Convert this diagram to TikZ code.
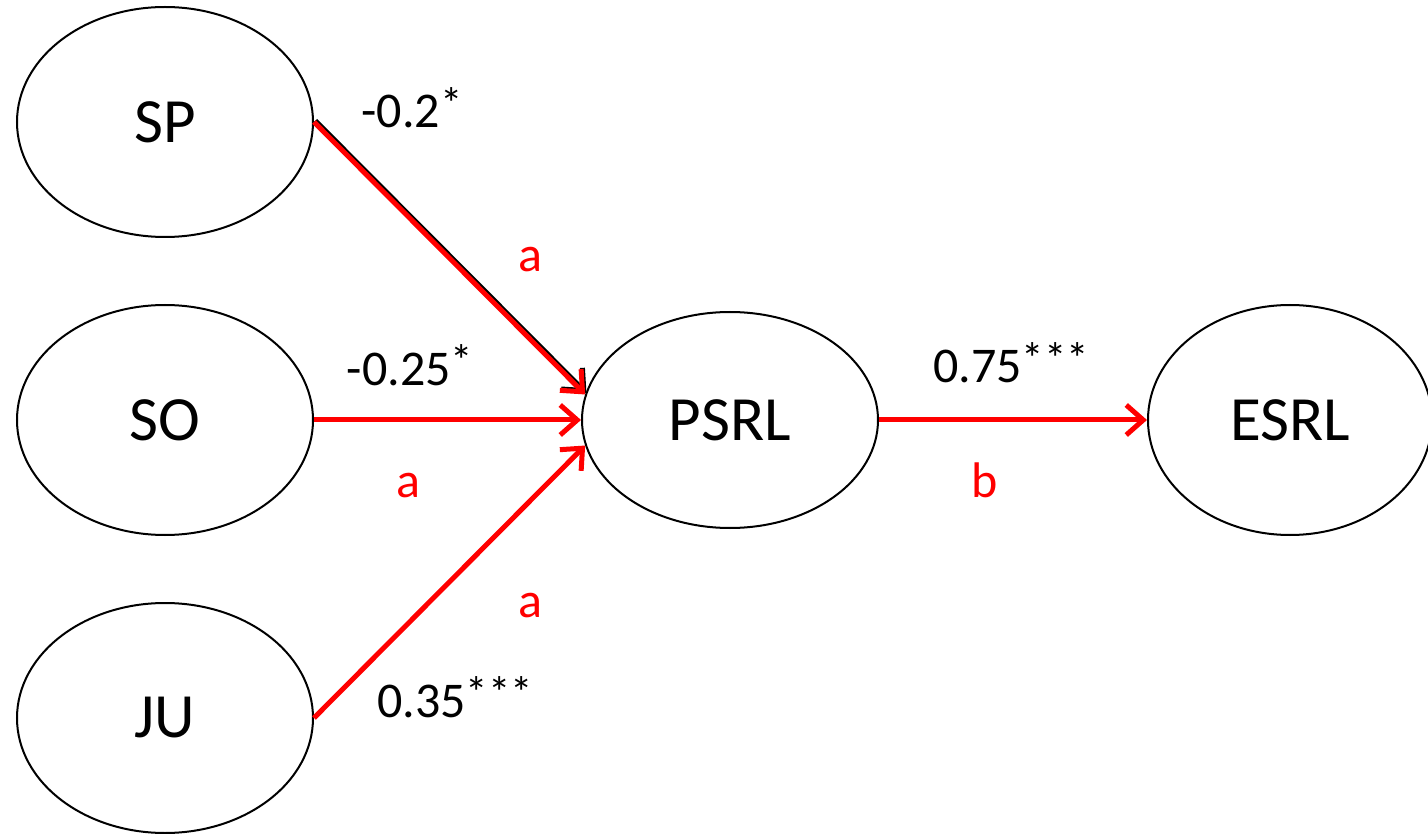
\documentclass[tikz,border=0pt]{standalone}
\usepackage{fontspec}
\setmainfont{Carlito}
\usetikzlibrary{shapes.geometric,arrows.meta}

% 显著性星号
\newcommand{\sig}[1]{\raisebox{0.17em}{\fontsize{45}{50}\selectfont #1}}

\begin{document}
\begin{tikzpicture}[x=1pt, y=-1pt,
    latent/.style={draw, ellipse, line width=2pt, minimum width=296pt, minimum height=230pt, inner sep=0pt, font=\fontsize{63}{70}\selectfont},
    effect/.style={red, line width=5pt, -{Straight Barb[length=17pt,width=30pt]}},
    coef/.style={anchor=base, font=\fontsize{50}{60}\selectfont},
    pathlbl/.style={anchor=base, red, font=\fontsize{50}{60}\selectfont}]

    % --- 定义坐标和参数 ---
    \def\colL{165}      % 左侧三个变量的 x
    \def\colM{730}      % 中介变量 PSRL 的 x
    \def\colR{1290}     % 结果变量 ESRL 的 x
    \def\rowM{420}      % 中间一行的 y

    % 画布大小 (像素)
    \useasboundingbox (0,0) rectangle (1428,834);

    % --- 绘制变量 (椭圆) ---
    \node[latent] (SP) at (\colL, 122) {SP};
    \node[latent] (SO) at (\colL, \rowM) {SO};
    \node[latent] (JU) at (\colL, 718) {JU};
    \node[latent, minimum height=216pt] (PSRL) at (\colM, \rowM) {PSRL};
    \node[latent, minimum width=284pt] (ESRL) at (\colR, \rowM) {ESRL};

    % --- 绘制路径 a 和 b ---
    % SP 的箭头下面有一条黑边
    \draw[effect, black, transform canvas={xshift=1.3pt, yshift=1.3pt}] (SP.east) -- (PSRL.170);
    \draw[effect] (SP.east) -- (PSRL.170);
    \draw[effect] (SO.east) -- (PSRL.west);
    \draw[effect] (JU.east) -- (PSRL.190);
    \draw[effect] (PSRL.east) -- (ESRL.west);

    % --- 系数标签 ---
    \node[coef] (cSP) at (412, 128) {-0.2\sig{*}};
    \node[coef] (cSO) at (410, 385) {-0.25\sig{*}};
    \node[coef] (cJU) at (455, 717) {0.35\sig{***}};
    \node[coef] (cPSRL) at (1011, 383) {0.75\sig{***}};

    % --- 路径名称 ---
    \node[pathlbl] (aSP) at (530, 272) {a};
    \node[pathlbl] (aSO) at (408, 497) {a};
    \node[pathlbl] (aJU) at (530, 617) {a};
    \node[pathlbl] (bPSRL) at (985, 497) {b};

\end{tikzpicture}
\end{document}
